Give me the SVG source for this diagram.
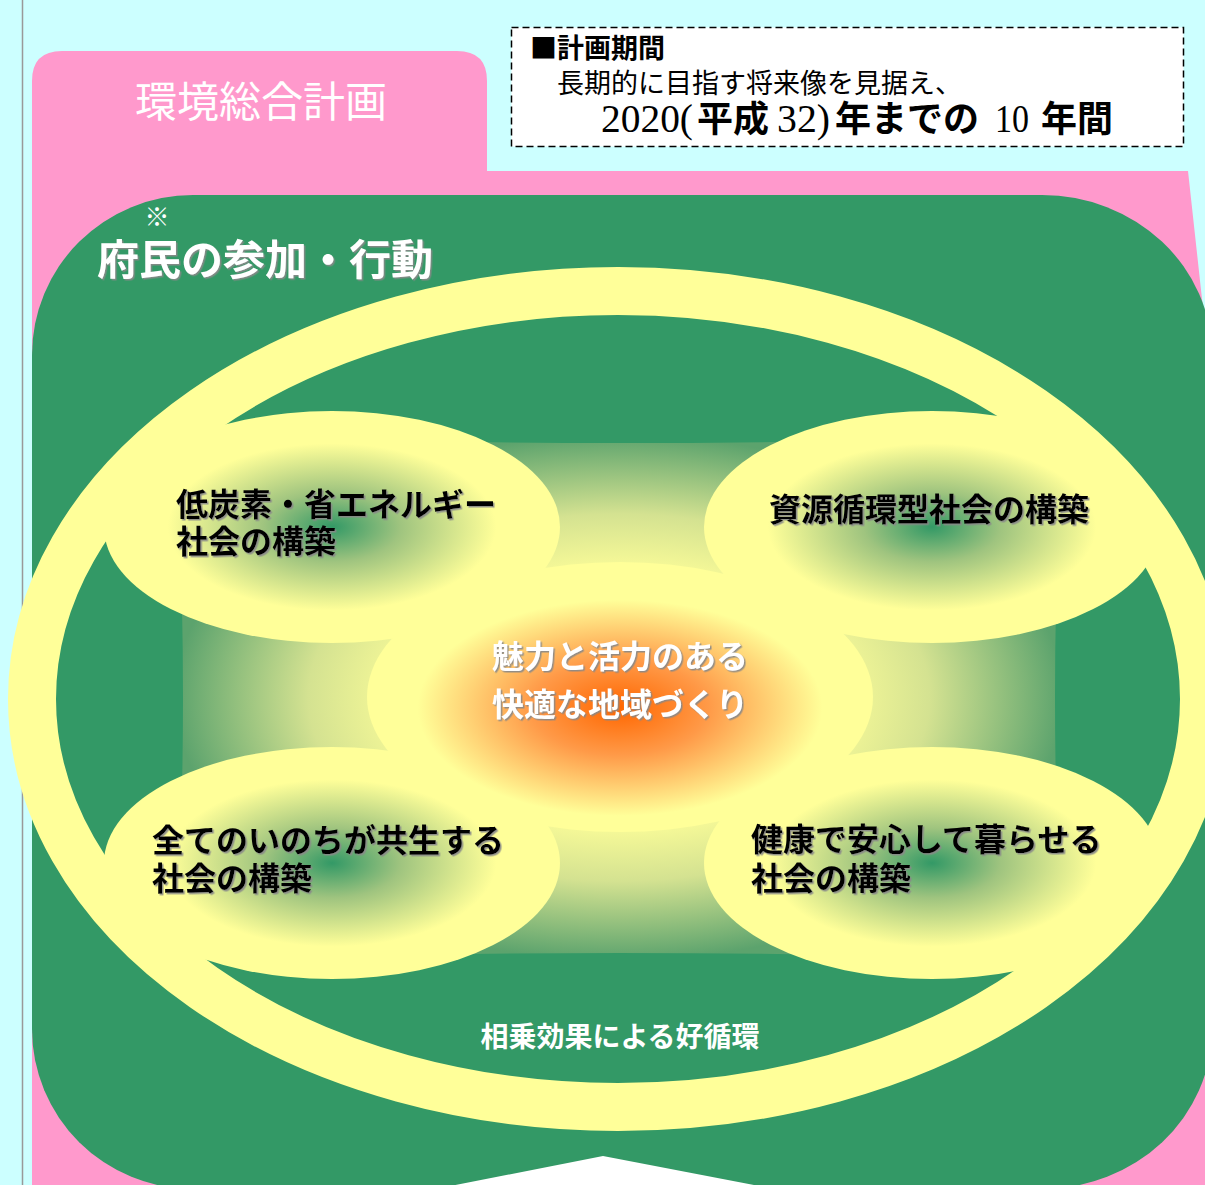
<svg xmlns="http://www.w3.org/2000/svg" width="1205" height="1185" viewBox="0 0 1205 1185">
  <defs>
    <style>
      .jp { font-family: 'Noto Sans CJK JP', 'Noto Sans', sans-serif; }
      .serif { font-family: 'Liberation Serif', 'Noto Sans CJK JP', serif; }
      .blobtxt { font-size: 32px; font-weight: 700; fill: #000; }
      .whitetxt { fill: #fff; }
    </style>
    <radialGradient id="blobGrad" cx="50%" cy="50%" r="50%">
      <stop offset="0" stop-color="#339966"/>
      <stop offset="0.3" stop-color="#9fc47f"/>
      <stop offset="0.72" stop-color="#ffff99"/>
      <stop offset="1" stop-color="#ffff99"/>
    </radialGradient>
    <radialGradient id="centerGrad" cx="50%" cy="54%" r="50%">
      <stop offset="0" stop-color="#ff6600"/>
      <stop offset="0.35" stop-color="#ff9a48"/>
      <stop offset="0.8" stop-color="#ffff99"/>
      <stop offset="1" stop-color="#ffff99"/>
    </radialGradient>
    <radialGradient id="midGrad" cx="50%" cy="50%" r="50%">
      <stop offset="0" stop-color="#ffff99"/>
      <stop offset="0.45" stop-color="#ffff99"/>
      <stop offset="0.7" stop-color="#d4e291"/>
      <stop offset="1" stop-color="#5ca36d"/>
    </radialGradient>
    <filter id="shadowGray" x="-5%" y="-20%" width="110%" height="140%">
      <feDropShadow dx="1.5" dy="1.5" stdDeviation="0.6" flood-color="#888" flood-opacity="0.9"/>
    </filter>
  </defs>

  <!-- background -->
  <rect x="0" y="0" width="1205" height="1185" fill="#ccffff"/>
  <line x1="22.5" y1="0" x2="22.5" y2="1185" stroke="#999" stroke-width="1.5"/>

  <!-- pink plan frame -->
  <g id="plan-frame">
    <path d="M32,1185 V81 Q32,51 62,51 H457 Q487,51 487,81 V171 H1188 L1224,500 V1185 Z" fill="#ff99cc"/>
    <text class="jp whitetxt" x="261" y="117" font-size="42" text-anchor="middle">環境総合計画</text>
  </g>

  <!-- period box -->
  <g id="period-box">
    <rect x="511.5" y="27.5" width="672" height="119" fill="#fff" stroke="#000" stroke-width="1.5" stroke-dasharray="7,4"/>
    <text class="jp" x="530" y="58" font-size="27" font-weight="700">■計画期間</text>
    <text class="jp" x="557" y="93" font-size="27">長期的に目指す将来像を見据え、</text>
    <text y="132" font-size="36">
      <tspan class="serif" x="601" font-size="40" textLength="92" lengthAdjust="spacingAndGlyphs">2020(</tspan><tspan class="jp" x="697" font-weight="700">平成</tspan><tspan class="serif" x="777" font-size="40" textLength="53" lengthAdjust="spacingAndGlyphs">32)</tspan><tspan class="jp" x="835" font-weight="700">年までの</tspan><tspan class="serif" x="995" font-size="40" textLength="34" lengthAdjust="spacingAndGlyphs">10</tspan><tspan class="jp" x="1041" font-weight="700">年間</tspan>
    </text>
  </g>

  <!-- green citizen participation area -->
  <g id="citizen-area">
    <path d="M193,195 H1042 A170,160 0 0 1 1212,355 V1029 A170,160 0 0 1 1042,1189 H193 A161,160 0 0 1 32,1029 V355 A161,160 0 0 1 193,195 Z" fill="#339966"/>
    <polygon points="430,1190 603,1156 780,1190" fill="#fff"/>
    <text class="jp whitetxt" x="157" y="226" font-size="25" text-anchor="middle">※</text>
    <text class="jp whitetxt" x="97" y="275" font-size="42" font-weight="700" filter="url(#shadowGray)">府民の参加・行動</text>
  </g>

  <!-- synergy: gradient middle and ring -->
  <g id="connectors">
    <path d="M175,435 Q619,451 1063,435 Q1047,697 1063,960 Q619,946 175,960 Q191,697 175,435 Z" fill="url(#midGrad)"/>
    <ellipse cx="618" cy="699" rx="586" ry="408" fill="none" stroke="#ffff99" stroke-width="48"/>
  </g>

  <g id="node-lowcarbon">
    <ellipse cx="332" cy="527" rx="228" ry="116" fill="url(#blobGrad)"/>
    <text class="jp blobtxt" x="176" y="516" filter="url(#shadowGray)">低炭素・省エネルギー</text>
    <text class="jp blobtxt" x="176" y="553" filter="url(#shadowGray)">社会の構築</text>
  </g>

  <g id="node-recycling">
    <ellipse cx="932" cy="527" rx="228" ry="116" fill="url(#blobGrad)"/>
    <text class="jp blobtxt" x="769" y="521" filter="url(#shadowGray)">資源循環型社会の構築</text>
  </g>

  <g id="node-coexist">
    <ellipse cx="332" cy="863" rx="228" ry="116" fill="url(#blobGrad)"/>
    <text class="jp blobtxt" x="152" y="852" filter="url(#shadowGray)">全てのいのちが共生する</text>
    <text class="jp blobtxt" x="152" y="890" filter="url(#shadowGray)">社会の構築</text>
  </g>

  <g id="node-health">
    <ellipse cx="932" cy="863" rx="228" ry="116" fill="url(#blobGrad)"/>
    <text class="jp blobtxt" x="751" y="851" filter="url(#shadowGray)">健康で安心して暮らせる</text>
    <text class="jp blobtxt" x="751" y="890" filter="url(#shadowGray)">社会の構築</text>
  </g>

  <g id="node-center">
    <ellipse cx="620" cy="697" rx="253" ry="135" fill="url(#centerGrad)"/>
    <text class="jp whitetxt" x="492" y="668" font-size="32" font-weight="700" filter="url(#shadowGray)">魅力と活力のある</text>
    <text class="jp whitetxt" x="492" y="716" font-size="32" font-weight="700" filter="url(#shadowGray)">快適な地域づくり</text>
  </g>

  <g id="label-synergy">
    <text class="jp whitetxt" x="620" y="1047" font-size="28" font-weight="700" text-anchor="middle">相乗効果による好循環</text>
  </g>
</svg>
